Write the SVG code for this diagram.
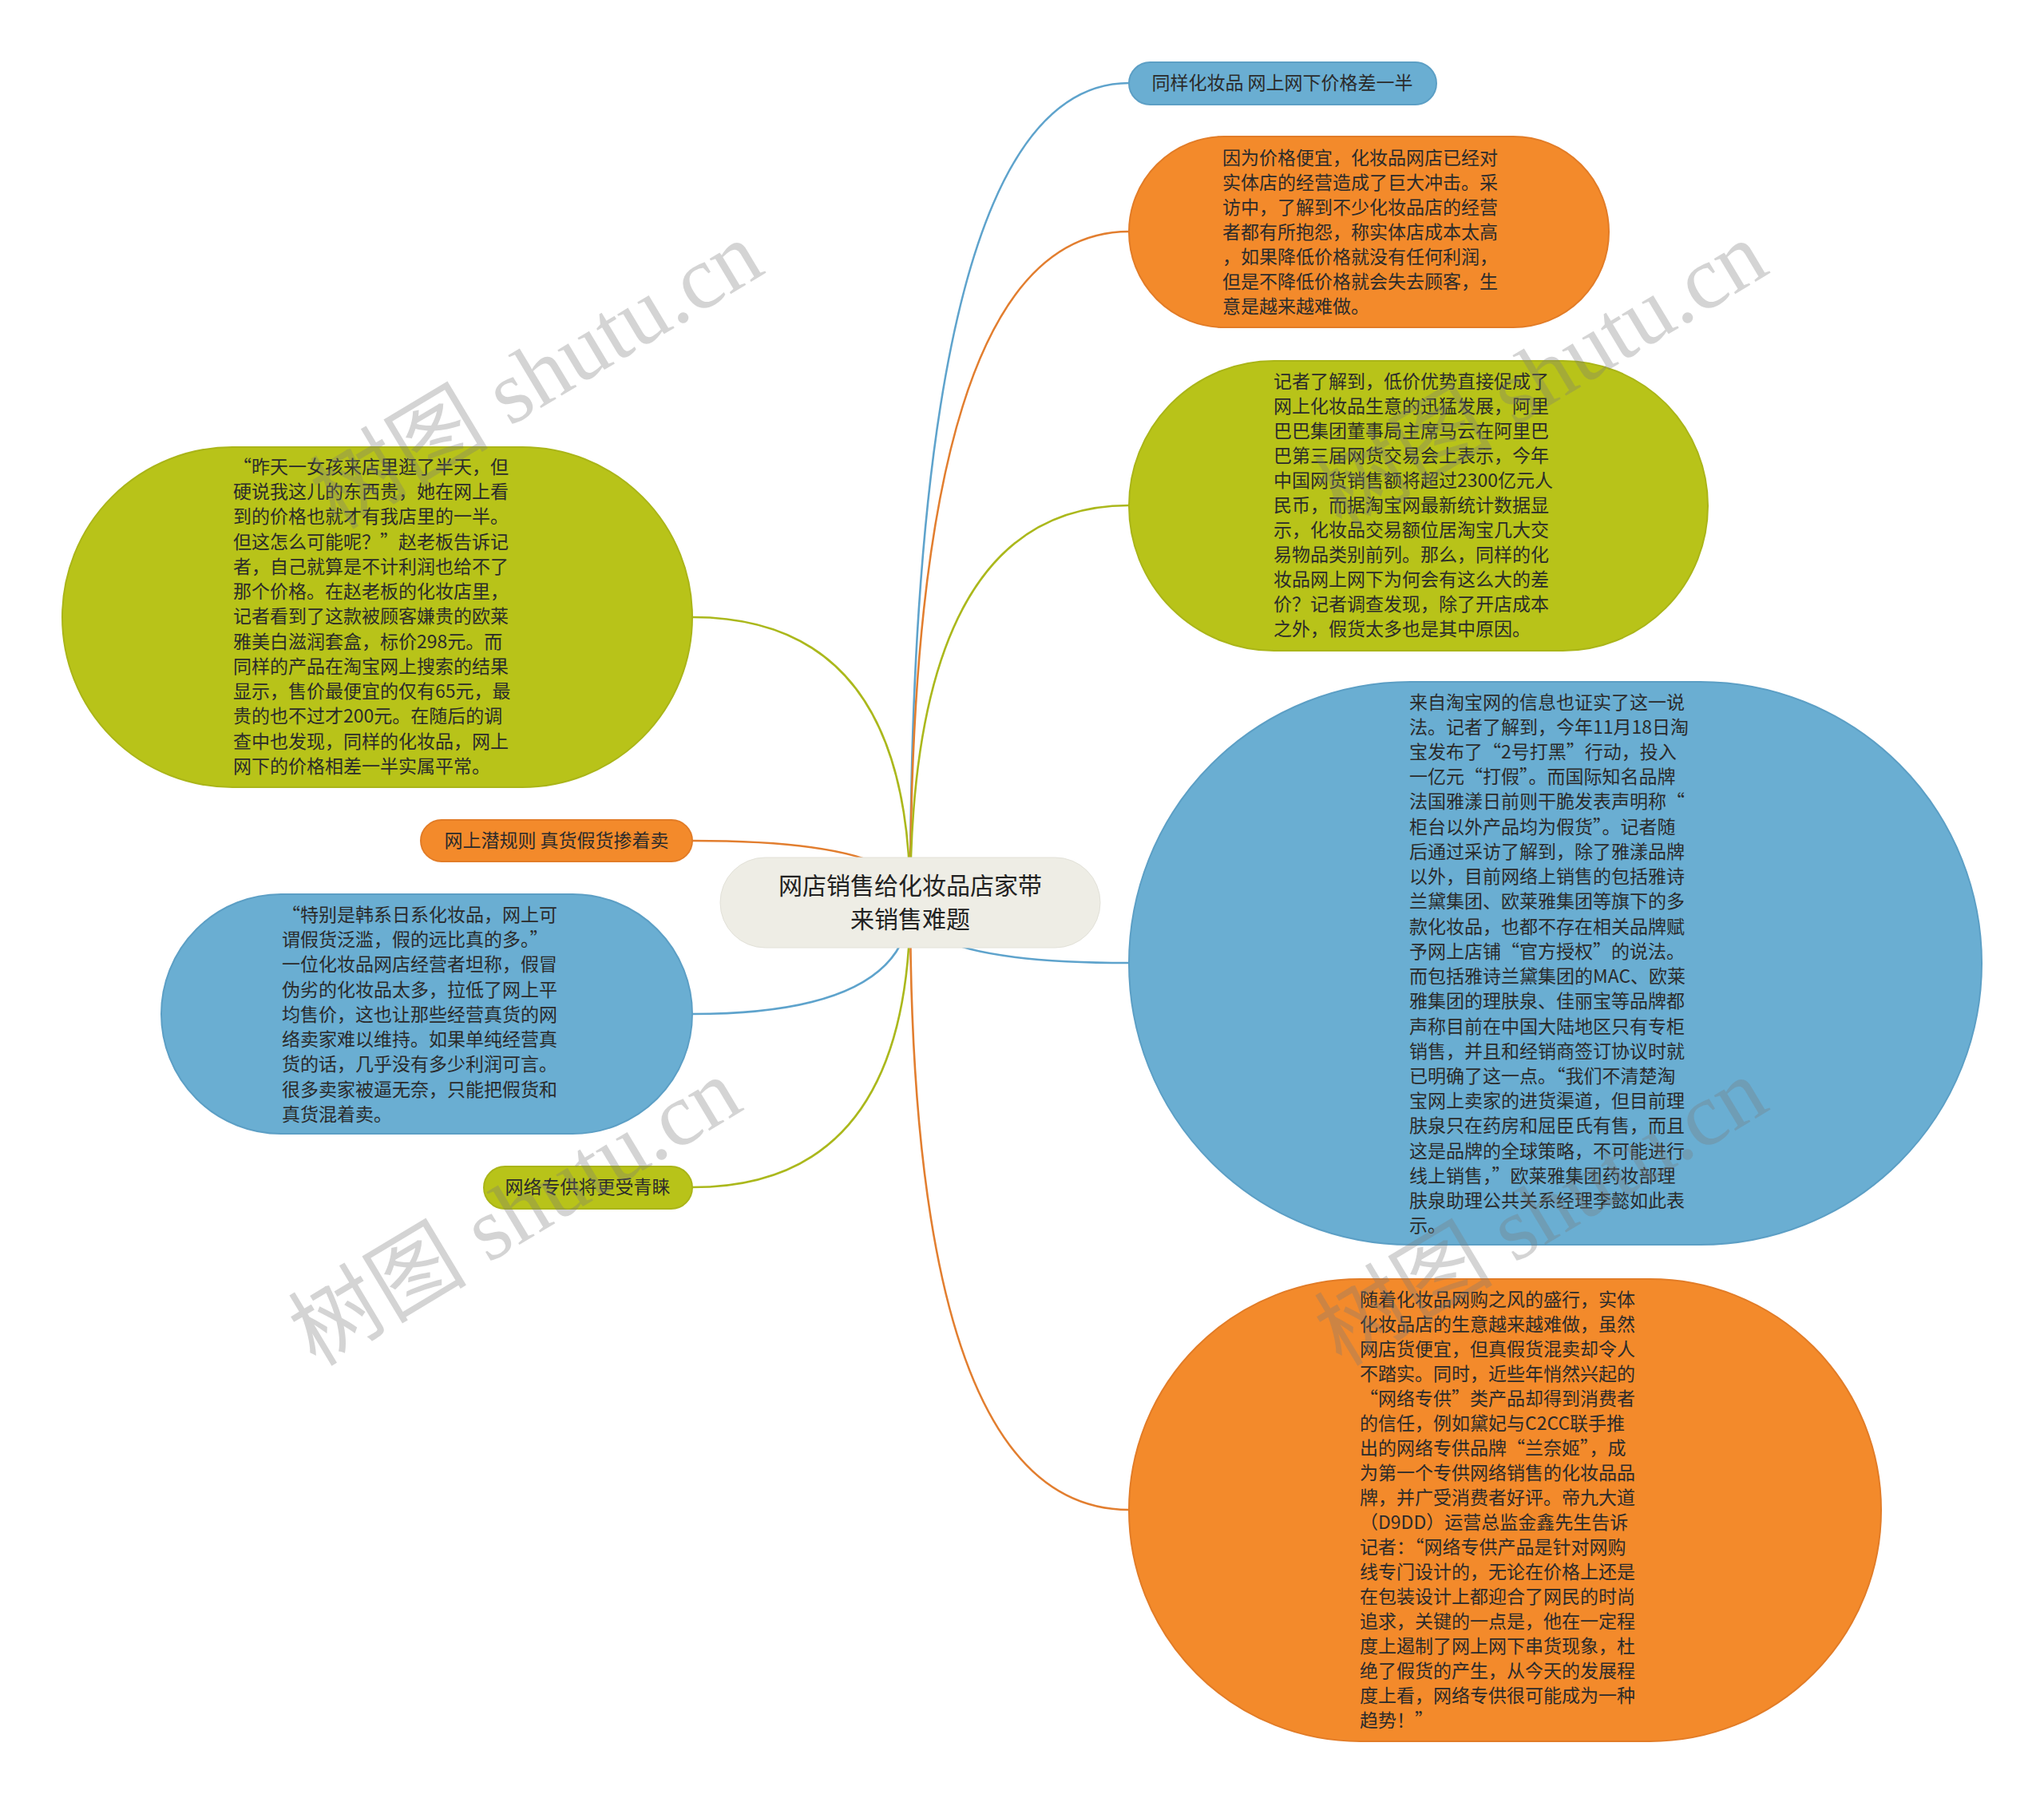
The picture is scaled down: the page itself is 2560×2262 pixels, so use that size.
<svg xmlns="http://www.w3.org/2000/svg" width="2560" height="2262" viewBox="0 0 2560 2262">
<style>
.t{font-family:"Noto Sans CJK SC","Liberation Sans",sans-serif;font-size:23px;fill:#2b2b2b}
.tm{text-anchor:middle}
.root{font-family:"Noto Sans CJK SC","Liberation Sans",sans-serif;font-size:30px;fill:#222;text-anchor:middle}
.blue{fill:#6aaed2;stroke:#5c9fc5;stroke-width:2}
.orange{fill:#f38a2b;stroke:#e27c27;stroke-width:2}
.green{fill:#b8c319;stroke:#aab518;stroke-width:2}
.rootbox{fill:#eeede5;stroke:#e2e1d8;stroke-width:1}
.c{fill:none;stroke-width:2.6}
.cb{stroke:#5ea3cc}.co{stroke:#e27e2f}.cg{stroke:#abb81c}
.wm{font-family:"Liberation Serif","Noto Sans CJK SC",serif;font-size:112px;fill:#7a7a7a;fill-opacity:0.32;text-anchor:middle}
</style>
<rect width="2560" height="2262" fill="#ffffff"/>
<g id="connectors">
<path class="c cb" d="M1140 1130 Q1140 104 1414 104"/>
<path class="c co" d="M1140 1130 Q1140 290 1414 290"/>
<path class="c cg" d="M1140 1130 Q1140 633 1414 633"/>
<path class="c cb" d="M1140 1130 Q1140 1206 1414 1206"/>
<path class="c co" d="M1140 1130 Q1140 1891 1414 1891"/>
<path class="c cg" d="M1140 1130 Q1140 773 867 773"/>
<path class="c co" d="M1140 1130 Q1140 1053 867 1053"/>
<path class="c cb" d="M1140 1130 Q1140 1270 867 1270"/>
<path class="c cg" d="M1140 1130 Q1140 1487 867 1487"/>
</g>
<g id="root">
<rect class="rootbox" x="902" y="1074" width="476" height="113" rx="56.5"/>
<text class="root"><tspan x="1140" y="1120">网店销售给化妆品店家带</tspan><tspan x="1140" y="1162">来销售难题</tspan></text>
</g>
<g id="n1">
<rect class="blue" x="1414" y="78" width="385" height="53" rx="26.5"/>
<text class="t tm" x="1606" y="112">同样化妆品 网上网下价格差一半</text>
</g>
<g id="n2">
<rect class="orange" x="1414" y="171" width="601" height="239" rx="119.5"/>
<text class="t"><tspan x="1531" y="206">因为价格便宜，化妆品网店已经对</tspan><tspan x="1531" y="237">实体店的经营造成了巨大冲击。采</tspan><tspan x="1531" y="268">访中，了解到不少化妆品店的经营</tspan><tspan x="1531" y="299">者都有所抱怨，称实体店成本太高</tspan><tspan x="1531" y="330">，如果降低价格就没有任何利润，</tspan><tspan x="1531" y="361">但是不降低价格就会失去顾客，生</tspan><tspan x="1531" y="392">意是越来越难做。</tspan></text>
</g>
<g id="n3">
<rect class="green" x="1414" y="452" width="725" height="363" rx="181.5"/>
<text class="t"><tspan x="1595" y="486">记者了解到，低价优势直接促成了</tspan><tspan x="1595" y="517">网上化妆品生意的迅猛发展，阿里</tspan><tspan x="1595" y="548">巴巴集团董事局主席马云在阿里巴</tspan><tspan x="1595" y="579">巴第三届网货交易会上表示，今年</tspan><tspan x="1595" y="610">中国网货销售额将超过2300亿元人</tspan><tspan x="1595" y="641">民币，而据淘宝网最新统计数据显</tspan><tspan x="1595" y="672">示，化妆品交易额位居淘宝几大交</tspan><tspan x="1595" y="703">易物品类别前列。那么，同样的化</tspan><tspan x="1595" y="734">妆品网上网下为何会有这么大的差</tspan><tspan x="1595" y="765">价？记者调查发现，除了开店成本</tspan><tspan x="1595" y="796">之外，假货太多也是其中原因。</tspan></text>
</g>
<g id="n4">
<rect class="blue" x="1414" y="854" width="1068" height="705" rx="352.5"/>
<text class="t"><tspan x="1765" y="888">来自淘宝网的信息也证实了这一说</tspan><tspan x="1765" y="919">法。记者了解到，今年11月18日淘</tspan><tspan x="1765" y="950">宝发布了“2号打黑”行动，投入</tspan><tspan x="1765" y="981">一亿元“打假”。而国际知名品牌</tspan><tspan x="1765" y="1012">法国雅漾日前则干脆发表声明称“</tspan><tspan x="1765" y="1044">柜台以外产品均为假货”。记者随</tspan><tspan x="1765" y="1075">后通过采访了解到，除了雅漾品牌</tspan><tspan x="1765" y="1106">以外，目前网络上销售的包括雅诗</tspan><tspan x="1765" y="1137">兰黛集团、欧莱雅集团等旗下的多</tspan><tspan x="1765" y="1169">款化妆品，也都不存在相关品牌赋</tspan><tspan x="1765" y="1200">予网上店铺“官方授权”的说法。</tspan><tspan x="1765" y="1231">而包括雅诗兰黛集团的MAC、欧莱</tspan><tspan x="1765" y="1262">雅集团的理肤泉、佳丽宝等品牌都</tspan><tspan x="1765" y="1294">声称目前在中国大陆地区只有专柜</tspan><tspan x="1765" y="1325">销售，并且和经销商签订协议时就</tspan><tspan x="1765" y="1356">已明确了这一点。“我们不清楚淘</tspan><tspan x="1765" y="1387">宝网上卖家的进货渠道，但目前理</tspan><tspan x="1765" y="1418">肤泉只在药房和屈臣氏有售，而且</tspan><tspan x="1765" y="1450">这是品牌的全球策略，不可能进行</tspan><tspan x="1765" y="1481">线上销售，”欧莱雅集团药妆部理</tspan><tspan x="1765" y="1512">肤泉助理公共关系经理李懿如此表</tspan><tspan x="1765" y="1543">示。</tspan></text>
</g>
<g id="n5">
<rect class="orange" x="1414" y="1602" width="942" height="579" rx="289.5"/>
<text class="t"><tspan x="1703" y="1636">随着化妆品网购之风的盛行，实体</tspan><tspan x="1703" y="1667">化妆品店的生意越来越难做，虽然</tspan><tspan x="1703" y="1698">网店货便宜，但真假货混卖却令人</tspan><tspan x="1703" y="1729">不踏实。同时，近些年悄然兴起的</tspan><tspan x="1703" y="1760">“网络专供”类产品却得到消费者</tspan><tspan x="1703" y="1791">的信任，例如黛妃与C2CC联手推</tspan><tspan x="1703" y="1822">出的网络专供品牌“兰奈姬”，成</tspan><tspan x="1703" y="1853">为第一个专供网络销售的化妆品品</tspan><tspan x="1703" y="1884">牌，并广受消费者好评。帝九大道</tspan><tspan x="1703" y="1915">（D9DD）运营总监金鑫先生告诉</tspan><tspan x="1703" y="1946">记者：“网络专供产品是针对网购</tspan><tspan x="1703" y="1977">线专门设计的，无论在价格上还是</tspan><tspan x="1703" y="2008">在包装设计上都迎合了网民的时尚</tspan><tspan x="1703" y="2039">追求，关键的一点是，他在一定程</tspan><tspan x="1703" y="2070">度上遏制了网上网下串货现象，杜</tspan><tspan x="1703" y="2101">绝了假货的产生，从今天的发展程</tspan><tspan x="1703" y="2132">度上看，网络专供很可能成为一种</tspan><tspan x="1703" y="2163">趋势！”</tspan></text>
</g>
<g id="n6">
<rect class="green" x="78" y="560" width="789" height="426" rx="213"/>
<text class="t"><tspan x="292" y="593">“昨天一女孩来店里逛了半天，但</tspan><tspan x="292" y="624">硬说我这儿的东西贵，她在网上看</tspan><tspan x="292" y="655">到的价格也就才有我店里的一半。</tspan><tspan x="292" y="687">但这怎么可能呢？”赵老板告诉记</tspan><tspan x="292" y="718">者，自己就算是不计利润也给不了</tspan><tspan x="292" y="749">那个价格。在赵老板的化妆店里，</tspan><tspan x="292" y="780">记者看到了这款被顾客嫌贵的欧莱</tspan><tspan x="292" y="812">雅美白滋润套盒，标价298元。而</tspan><tspan x="292" y="843">同样的产品在淘宝网上搜索的结果</tspan><tspan x="292" y="874">显示，售价最便宜的仅有65元，最</tspan><tspan x="292" y="905">贵的也不过才200元。在随后的调</tspan><tspan x="292" y="937">查中也发现，同样的化妆品，网上</tspan><tspan x="292" y="968">网下的价格相差一半实属平常。</tspan></text>
</g>
<g id="n7">
<rect class="orange" x="527" y="1027" width="340" height="52" rx="26"/>
<text class="t tm" x="697" y="1061">网上潜规则 真货假货掺着卖</text>
</g>
<g id="n8">
<rect class="blue" x="202" y="1120" width="665" height="300" rx="150"/>
<text class="t"><tspan x="353" y="1154">“特别是韩系日系化妆品，网上可</tspan><tspan x="353" y="1185">谓假货泛滥，假的远比真的多。”</tspan><tspan x="353" y="1216">一位化妆品网店经营者坦称，假冒</tspan><tspan x="353" y="1248">伪劣的化妆品太多，拉低了网上平</tspan><tspan x="353" y="1279">均售价，这也让那些经营真货的网</tspan><tspan x="353" y="1310">络卖家难以维持。如果单纯经营真</tspan><tspan x="353" y="1341">货的话，几乎没有多少利润可言。</tspan><tspan x="353" y="1373">很多卖家被逼无奈，只能把假货和</tspan><tspan x="353" y="1404">真货混着卖。</tspan></text>
</g>
<g id="n9">
<rect class="green" x="606" y="1461" width="261" height="53" rx="26.5"/>
<text class="t tm" x="736" y="1495">网络专供将更受青睐</text>
</g>
<g id="watermarks">
<text class="wm" transform="translate(672 470) rotate(-31)" y="38">树图 shutu.cn</text>
<text class="wm" transform="translate(1930 470) rotate(-31)" y="38">树图 shutu.cn</text>
<text class="wm" transform="translate(645 1518) rotate(-31)" y="38">树图 shutu.cn</text>
<text class="wm" transform="translate(1930 1518) rotate(-31)" y="38">树图 shutu.cn</text>
</g>
</svg>
